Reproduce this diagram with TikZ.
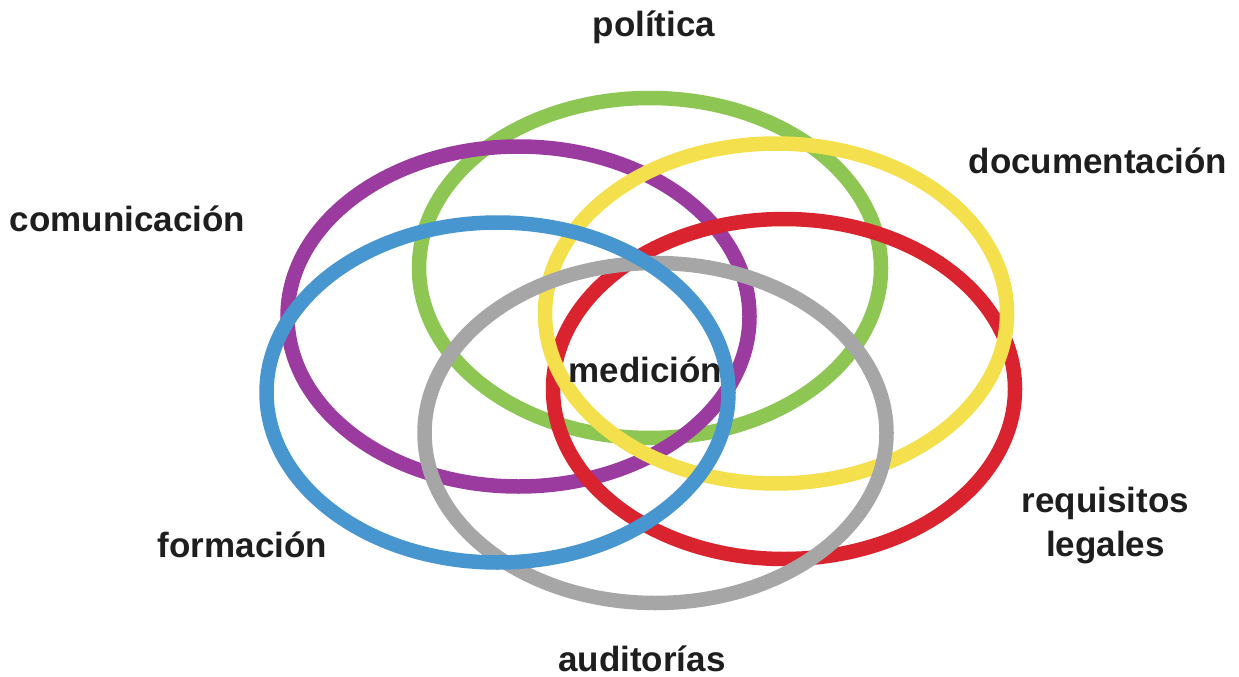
\documentclass[tikz,border=0pt]{standalone}
\usepackage{fontspec}
\setmainfont{Liberation Sans}
\definecolor{ringgreen}{HTML}{8DC653}
\definecolor{ringpurple}{HTML}{9B3BA0}
\definecolor{ringred}{HTML}{D9232E}
\definecolor{ringyellow}{HTML}{F4E04D}
\definecolor{ringgray}{HTML}{A6A6A6}
\definecolor{ringblue}{HTML}{4796D0}
\definecolor{labeltext}{HTML}{1E1E1E}
\begin{document}
\begin{tikzpicture}[x=1pt,y=-1pt,
  ring/.style={line width=14.5pt},
  lbl/.style={inner sep=0pt, text=labeltext, font=\fontsize{35}{44}\selectfont\bfseries, align=center}]
\useasboundingbox (0,0) rectangle (1239,677);
\fill[white] (0,0) rectangle (1239,677);
% centres of the rings
\coordinate (cgreen)  at (650,268);
\coordinate (cpurple) at (518.5,316.5);
\coordinate (cred)    at (784,389);
\coordinate (cyellow) at (776,313.5);
\coordinate (cgray)   at (655.5,433);
\coordinate (cblue)   at (497.5,392.5);
% rings, bottom to top
\draw[ring, ringgreen]  (cgreen)  ellipse [x radius=231, y radius=170];
\draw[ring, ringpurple] (cpurple) ellipse [x radius=231, y radius=170];
\draw[ring, ringred]    (cred)    ellipse [x radius=231, y radius=170];
\draw[ring, ringyellow] (cyellow) ellipse [x radius=231, y radius=170];
\draw[ring, ringgray]   (cgray)   ellipse [x radius=231, y radius=170];
\draw[ring, ringblue]   (cblue)   ellipse [x radius=231, y radius=170];
% labels
\node[lbl, anchor=base] (politica) at (654,37) {política};
\node[lbl, anchor=base] (documentacion) at (1098,173) {documentación};
\node[lbl, anchor=base] (comunicacion) at (127.5,231) {comunicación};
\node[lbl, anchor=base] (medicion) at (645.5,382) {medición};
\node[lbl, anchor=base] (formacion) at (242.5,557) {formación};
\node[lbl] (requisitos) at (1105.5,526) {requisitos\\legales};
\node[lbl, anchor=base] (auditorias) at (642,671) {auditorías};
\end{tikzpicture}
\end{document}
